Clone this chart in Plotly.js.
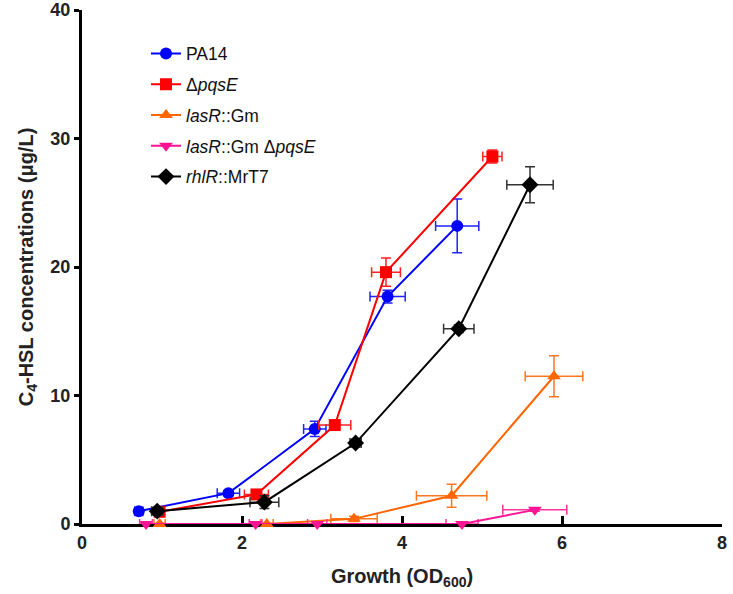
<!DOCTYPE html>
<html>
<head>
<meta charset="utf-8">
<script src="https://cdn.plot.ly/plotly-3.0.1.min.js"></script>
<style>html,body{margin:0;padding:0;background:#fff;}#chart{width:733px;height:594px;}</style>
</head>
<body>
<div id="chart"></div>
<script>
// Series names
const seriesNames = ["PA14", "Δ<i>pqsE</i>", "<i>lasR</i>::Gm", "<i>lasR</i>::Gm Δ<i>pqsE</i>", "<i>rhlR</i>::MrT7"];

// PA14
const pa14X   = [0.71, 1.83, 2.91, 3.82, 4.69];
const pa14Y   = [1.0, 2.4, 7.4, 17.7, 23.2];
const pa14Xe  = [0.05, 0.14, 0.14, 0.22, 0.27];
const pa14Ye  = [0.2, 0.2, 0.6, 0.5, 2.1];

// ΔpqsE
const pqsEX   = [0.97, 2.18, 3.16, 3.80, 5.13];
const pqsEY   = [0.95, 2.3, 7.7, 19.6, 28.6];
const pqsEXe  = [0.06, 0.15, 0.20, 0.18, 0.12];
const pqsEYe  = [0.2, 0.2, 0.3, 1.1, 0.5];

// lasR::Gm
const lasRX   = [0.97, 2.31, 3.40, 4.62, 5.90];
const lasRY   = [0.0, 0.0, 0.4, 2.2, 11.5];
const lasRXe  = [0.07, 0.08, 0.29, 0.44, 0.36];
const lasRYe  = [0.05, 0.05, 0.2, 0.9, 1.6];

// lasR::Gm ΔpqsE
const lasRpqsEX  = [0.80, 2.17, 2.94, 4.75, 5.66];
const lasRpqsEY  = [0.0, 0.0, 0.0, 0.0, 1.1];
const lasRpqsEXe = [0.08, 0.08, 0.12, 0.20, 0.40];
const lasRpqsEYe = [0.05, 0.05, 0.05, 0.05, 0.1];

// rhlR::MrT7
const rhlRX   = [0.94, 2.28, 3.42, 4.71, 5.60];
const rhlRY   = [1.0, 1.7, 6.3, 15.2, 26.4];
const rhlRXe  = [0.07, 0.18, 0.07, 0.19, 0.29];
const rhlRYe  = [0.3, 0.5, 0.3, 0.3, 1.4];

const xTicks = [0, 2, 4, 6, 8];
const yTicks = [0, 10, 20, 30, 40];

function mk(name, x, y, xe, ye, color, symbol, size, ecolor) {
  return {
    type: 'scatter', mode: 'lines+markers', name: name,
    x: x, y: y, cliponaxis: false,
    line: {color: color, width: 2},
    marker: {color: color, symbol: symbol, size: size},
    error_x: {type: 'data', array: xe, visible: true, color: ecolor, thickness: 1.5, width: 5},
    error_y: {type: 'data', array: ye, visible: true, color: ecolor, thickness: 1.5, width: 5},
    legendgroup: name
  };
}

const data = [
  mk(seriesNames[0], pa14X, pa14Y, pa14Xe, pa14Ye, '#0000FF', 'circle', 12, '#2222FF'),
  mk(seriesNames[1], pqsEX, pqsEY, pqsEXe, pqsEYe, '#FF0000', 'square', 12, '#FF2222'),
  mk(seriesNames[2], lasRX, lasRY, lasRXe, lasRYe, '#FF6600', 'triangle-up', 12, '#FF7722'),
  mk(seriesNames[3], lasRpqsEX, lasRpqsEY, lasRpqsEXe, lasRpqsEYe, '#FF1493', 'triangle-down', 12, '#FF3399'),
  mk(seriesNames[4], rhlRX, rhlRY, rhlRXe, rhlRYe, '#000000', 'diamond', 13, '#333333')
];

const layout = {
  width: 733, height: 594,
  margin: {l: 82, r: 11, t: 10, b: 70},
  paper_bgcolor: '#fff', plot_bgcolor: '#fff',
  font: {family: 'Liberation Sans, Arial, sans-serif', color: '#111'},
  showlegend: true,
  legend: {x: 0.1, y: 0.95, xanchor: 'left', yanchor: 'top', bgcolor: 'rgba(0,0,0,0)',
           font: {size: 17.5, family: 'Liberation Sans, Arial, sans-serif', color: '#111'},
           tracegroupgap: 5},
  xaxis: {
    range: [0, 8], tickvals: xTicks, ticktext: xTicks.map(String),
    showline: true, linewidth: 3, linecolor: '#000', mirror: false,
    ticks: 'inside', ticklen: 8, tickwidth: 3, tickcolor: '#000',
    showgrid: false, zeroline: false, layer: 'below traces',
    tickfont: {size: 18, weight: 'bold', color: '#222'},
    title: {text: 'Growth (OD<sub>600</sub>)', font: {size: 20, weight: 'bold', color: '#222'}, standoff: 18}
  },
  yaxis: {
    range: [0, 40], tickvals: yTicks, ticktext: yTicks.map(String),
    showline: true, linewidth: 3, linecolor: '#000',
    ticks: 'outside', ticklen: 5, tickwidth: 3, tickcolor: '#000',
    showgrid: false, zeroline: false, layer: 'below traces',
    tickfont: {size: 18, weight: 'bold', color: '#222'},
    title: {text: 'C<sub>4</sub>-HSL concentrations (μg/L)', font: {size: 20, weight: 'bold', color: '#222'}, standoff: 12}
  }
};

Plotly.newPlot('chart', data, layout, {displayModeBar: false, staticPlot: true});
</script>
</body>
</html>
